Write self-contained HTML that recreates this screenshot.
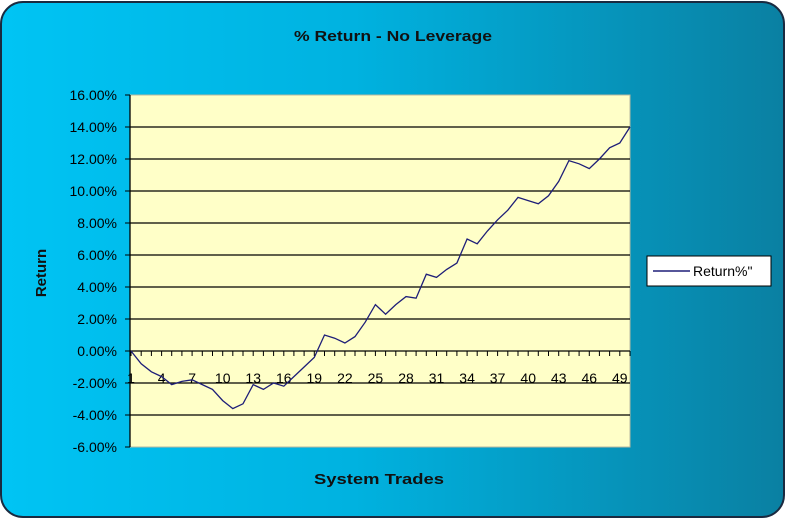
<!DOCTYPE html>
<html><head><meta charset="utf-8"><style>
html,body{margin:0;padding:0;background:#fff;}
svg{display:block;font-family:"Liberation Sans",Arial,sans-serif;}
</style></head><body>
<svg width="786" height="519" viewBox="0 0 786 519" xmlns="http://www.w3.org/2000/svg">
<defs>
<linearGradient id="bg" x1="0" y1="0" x2="1" y2="0">
<stop offset="0" stop-color="#00c4f4"/>
<stop offset="0.45" stop-color="#00b2e0"/>
<stop offset="1" stop-color="#0a80a2"/>
</linearGradient>
</defs>
<rect x="1" y="2" width="783" height="515" rx="22" ry="22" fill="url(#bg)" stroke="#1a2a40" stroke-width="2"/>
<text x="393" y="41" text-anchor="middle" font-size="15" font-weight="bold" fill="#111" textLength="198" lengthAdjust="spacingAndGlyphs">% Return - No Leverage</text>
<rect x="130" y="95" width="500" height="352" fill="#ffffc8" stroke="#b8b8a0" stroke-width="1"/>
<g stroke="#000" stroke-width="1.3">
<line x1="130" y1="127" x2="630" y2="127"/><line x1="130" y1="159" x2="630" y2="159"/>
<line x1="130" y1="191" x2="630" y2="191"/><line x1="130" y1="223" x2="630" y2="223"/>
<line x1="130" y1="255" x2="630" y2="255"/><line x1="130" y1="287" x2="630" y2="287"/>
<line x1="130" y1="319" x2="630" y2="319"/><line x1="130" y1="351" x2="630" y2="351"/>
<line x1="130" y1="383" x2="630" y2="383"/><line x1="130" y1="415" x2="630" y2="415"/>
<line x1="130" y1="95" x2="130" y2="447"/>
</g>
<g stroke="#000" stroke-width="1">
<line x1="125" y1="95" x2="130" y2="95"/><line x1="125" y1="127" x2="130" y2="127"/><line x1="125" y1="159" x2="130" y2="159"/><line x1="125" y1="191" x2="130" y2="191"/><line x1="125" y1="223" x2="130" y2="223"/><line x1="125" y1="255" x2="130" y2="255"/><line x1="125" y1="287" x2="130" y2="287"/><line x1="125" y1="319" x2="130" y2="319"/><line x1="125" y1="351" x2="130" y2="351"/><line x1="125" y1="383" x2="130" y2="383"/><line x1="125" y1="415" x2="130" y2="415"/><line x1="125" y1="447" x2="130" y2="447"/>
</g>
<path id="ticks" stroke="#000" stroke-width="1" fill="none" d=""/>
<g font-size="14" fill="#000" text-anchor="end">
<text x="117" y="100">16.00%</text><text x="117" y="132">14.00%</text><text x="117" y="164">12.00%</text><text x="117" y="196">10.00%</text><text x="117" y="228">8.00%</text><text x="117" y="260">6.00%</text><text x="117" y="292">4.00%</text><text x="117" y="324">2.00%</text><text x="117" y="356">0.00%</text><text x="117" y="388">-2.00%</text><text x="117" y="420">-4.00%</text><text x="117" y="452">-6.00%</text>
</g>
<g id="xl" font-size="14" fill="#000" text-anchor="middle"></g>
<polyline id="ln" fill="none" stroke="#1e1e78" stroke-width="1.3" points=""/>
<text x="0" y="0" transform="translate(46,273) rotate(-90)" text-anchor="middle" font-size="15" font-weight="bold" fill="#111">Return</text>
<text x="379" y="484" text-anchor="middle" font-size="15" font-weight="bold" fill="#111" textLength="130" lengthAdjust="spacingAndGlyphs">System Trades</text>
<rect x="647" y="256" width="124" height="30" fill="#fff" stroke="#000" stroke-width="1"/>
<line x1="653" y1="271" x2="690" y2="271" stroke="#1e1e78" stroke-width="1.5"/>
<text x="693" y="276" font-size="14" fill="#000">Return%"</text>
</svg>
<script>
var v=[0,-0.8,-1.3,-1.6,-2.1,-1.9,-1.8,-2.1,-2.4,-3.1,-3.6,-3.3,-2.1,-2.4,-2.0,-2.2,-1.6,-1.0,-0.4,1.0,0.8,0.5,0.9,1.8,2.9,2.3,2.9,3.4,3.3,4.8,4.6,5.1,5.5,7.0,6.7,7.5,8.2,8.8,9.6,9.4,9.2,9.7,10.6,11.9,11.7,11.4,12.0,12.7,13.0,14.0];
var sp=(630-131)/49,pts=[],d="",ns="http://www.w3.org/2000/svg",g=document.getElementById("xl");
for(var i=0;i<50;i++){var x=131+i*sp;pts.push(x.toFixed(1)+","+(351-v[i]*16).toFixed(1));
d+="M"+x.toFixed(1)+" 351V356";
if(i%3==0){var t=document.createElementNS(ns,"text");t.setAttribute("x",x.toFixed(1));t.setAttribute("y","383");t.textContent=String(i+1);g.appendChild(t);}}
document.getElementById("ln").setAttribute("points",pts.join(" "));
document.getElementById("ticks").setAttribute("d",d);
</script>
</body></html>
